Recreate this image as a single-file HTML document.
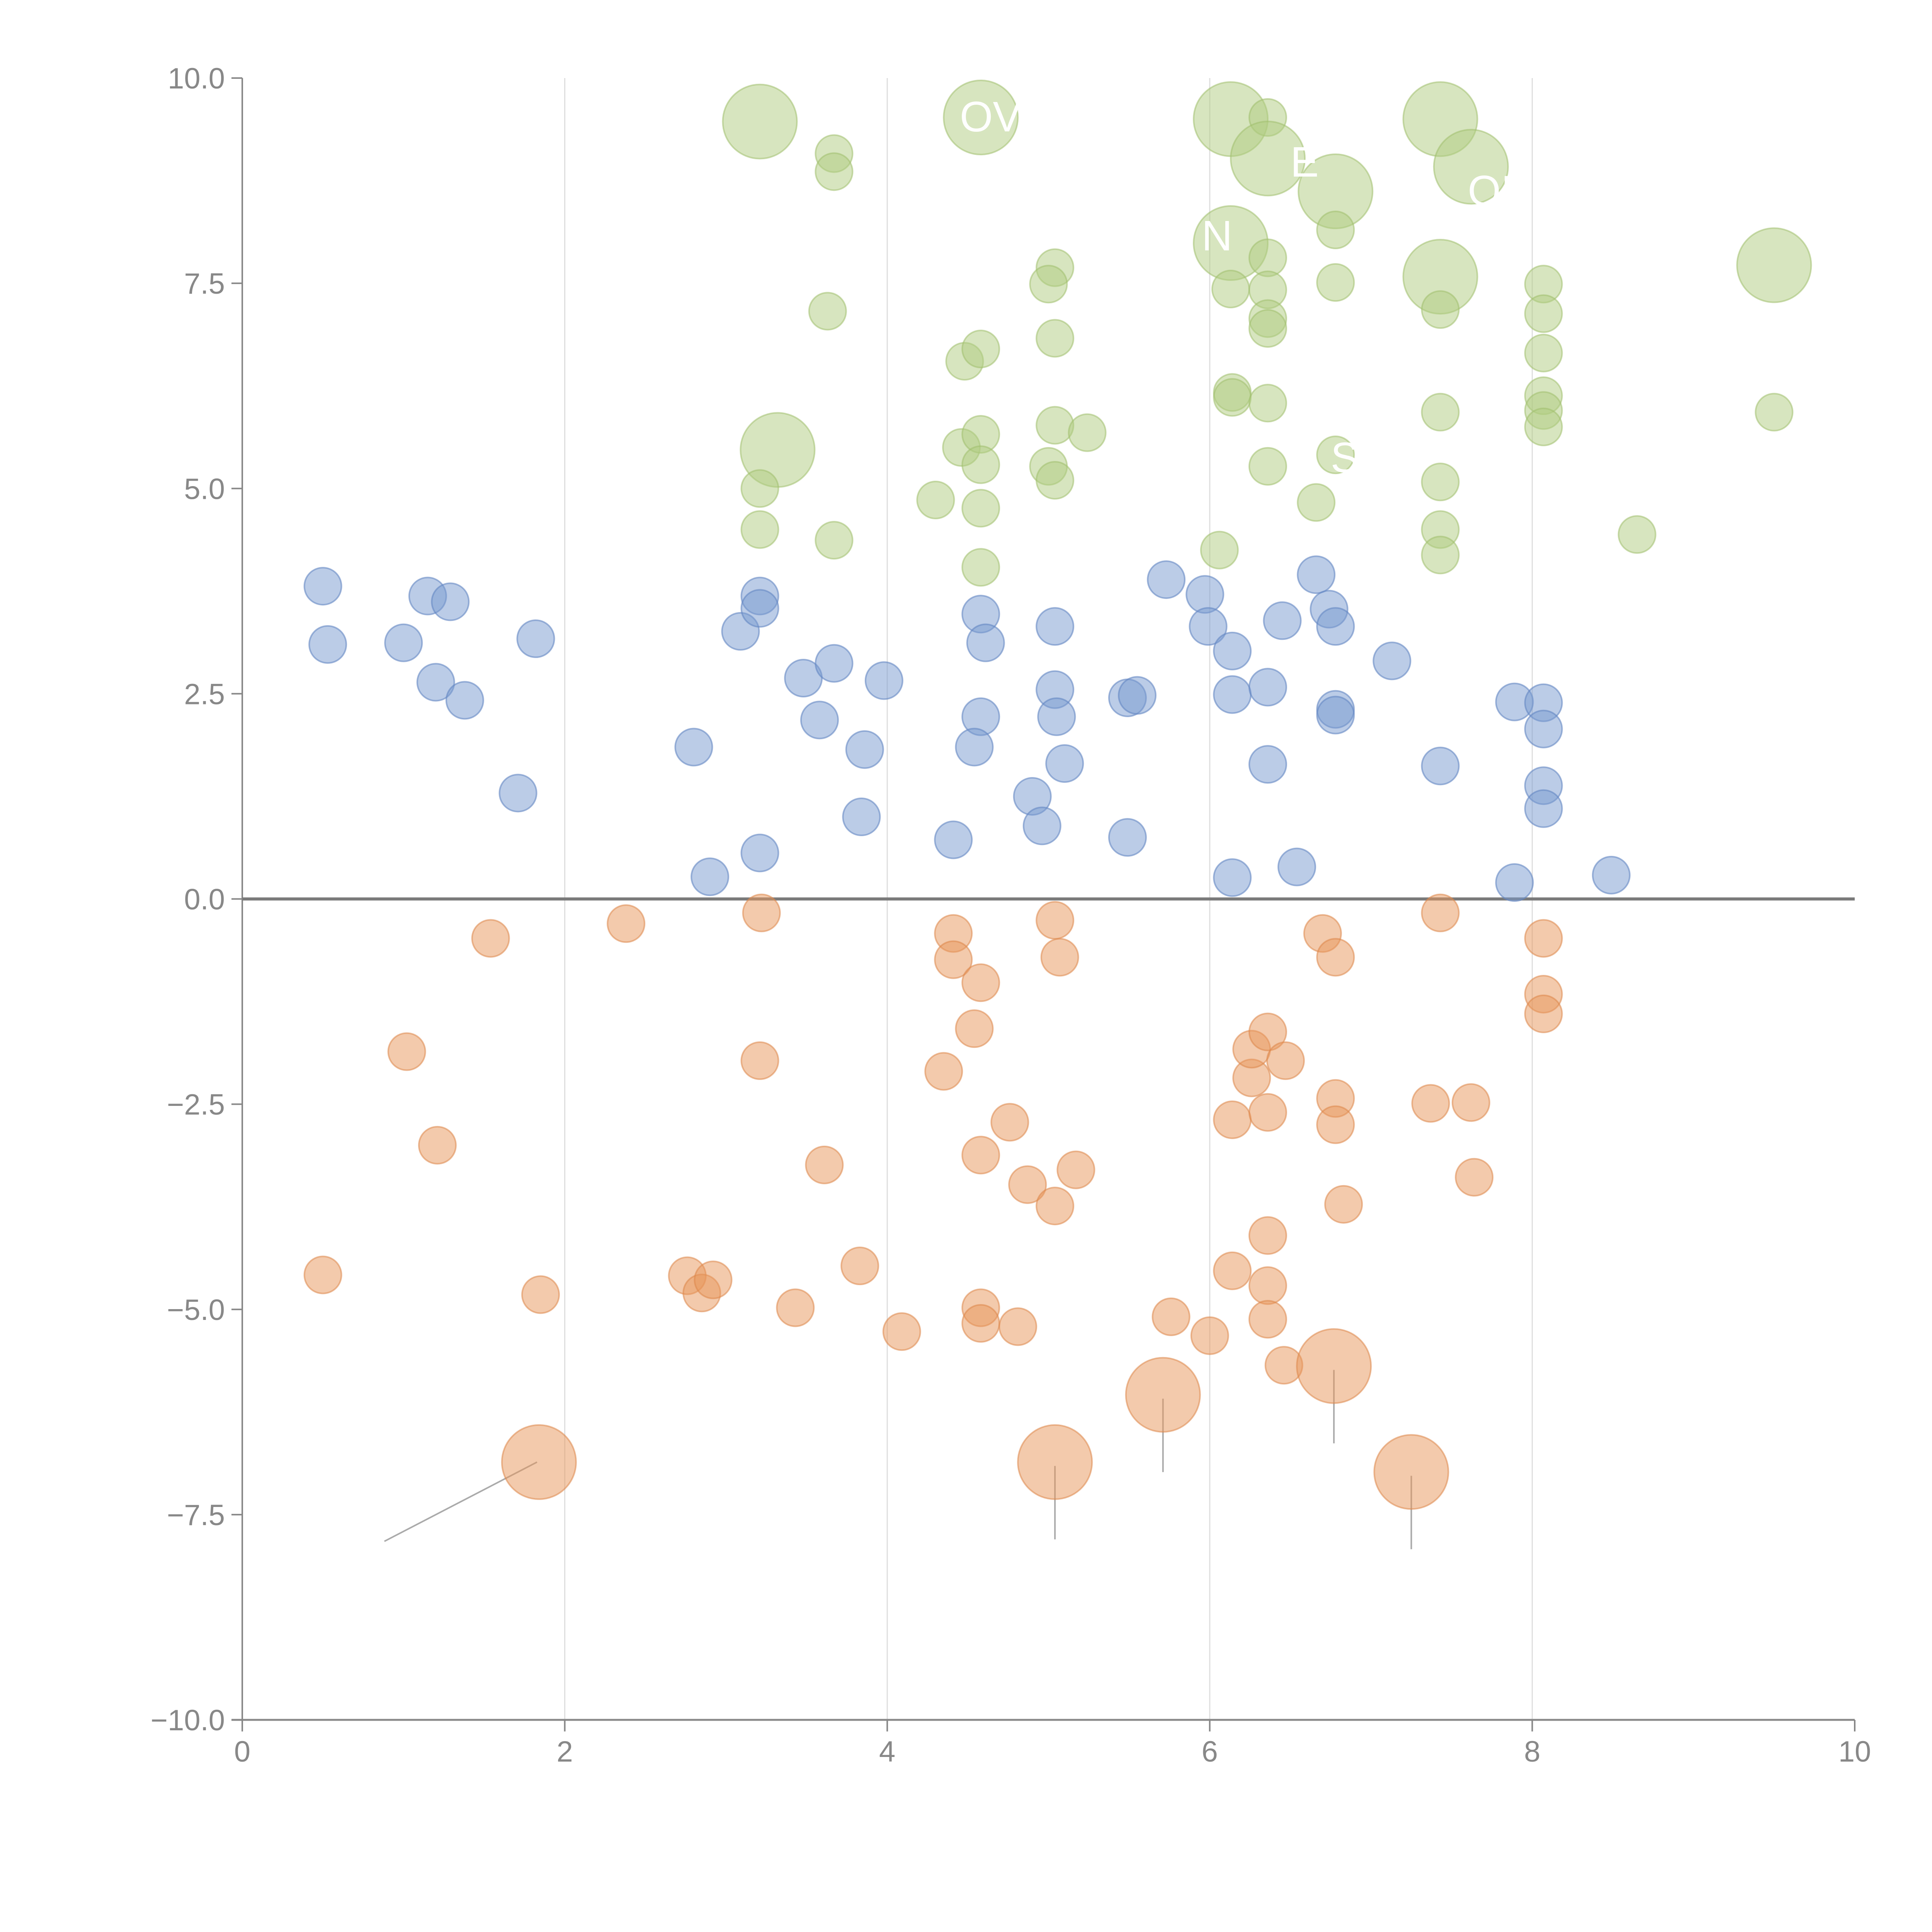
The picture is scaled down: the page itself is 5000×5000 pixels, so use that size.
<!DOCTYPE html>
<html><head><meta charset="utf-8"><style>
html,body{margin:0;padding:0;background:#fff;width:5000px;height:5000px;overflow:hidden}
svg{display:block}
text{font-family:"Liberation Sans",Arial,sans-serif}
</style></head><body>
<svg id="chart" width="5000" height="5000" viewBox="0 0 5000 5000" xmlns="http://www.w3.org/2000/svg">
<g id="grid"></g>
<g id="axes"></g>
<g id="leaders"></g>
<g id="marks"></g>
</svg>
<script>
const xTicks=[0,2,4,6,8,10];
const yTicks=[10,7.5,5,2.5,0,-2.5,-5,-7.5,-10];
const yTickLabels=["10.0","7.5","5.0","2.5","0.0","\u22122.5","\u22125.0","\u22127.5","\u221210.0"];
const blueX=[0.5,0.53,1.0,1.15,1.29,1.2,1.38,1.82,1.71,2.8,2.9,3.09,3.21,3.21,3.21,3.48,3.58,3.67,3.86,3.84,3.98,4.41,4.58,4.61,4.58,4.54,4.9,4.96,5.04,5.04,5.05,5.1,5.49,5.55,5.49,5.73,5.97,5.99,6.14,6.14,6.14,6.36,6.36,6.45,6.54,6.66,6.74,6.78,6.78,6.78,7.13,7.43,7.89,7.89,8.07,8.07,8.07,8.07,8.49];
const blueY=[3.81,3.1,3.12,3.69,3.62,2.64,2.42,3.17,1.29,1.85,0.27,3.26,3.69,3.54,0.56,2.69,2.18,2.87,1.82,1.0,2.66,0.72,3.47,3.12,2.22,1.85,1.25,0.89,3.32,2.55,2.22,1.65,2.45,2.48,0.75,3.89,3.71,3.32,3.02,2.49,0.26,2.58,1.64,3.39,0.39,3.95,3.53,3.32,2.31,2.24,2.9,1.62,2.4,0.2,2.39,2.07,1.38,1.1,0.29];
const orangeX=[0.5,1.02,1.21,1.54,1.85,1.84,2.38,2.76,2.85,2.92,3.21,3.22,3.43,3.61,3.83,4.09,4.35,4.41,4.41,4.54,4.58,4.58,4.58,4.58,4.76,4.81,4.87,5.04,5.07,5.04,5.17,5.04,5.71,5.76,6.0,6.14,6.14,6.26,6.26,6.36,6.47,6.36,6.36,6.36,6.36,6.46,6.7,6.78,6.78,6.78,6.83,6.77,7.25,7.37,7.43,7.62,7.64,8.07,8.07,8.07];
const orangeY=[-4.58,-1.86,-3.0,-0.48,-4.82,-6.86,-0.3,-4.59,-4.8,-4.64,-1.97,-0.17,-4.98,-3.24,-4.47,-5.27,-2.1,-0.42,-0.74,-1.58,-1.02,-3.12,-4.98,-5.17,-2.72,-5.21,-3.48,-0.26,-0.71,-3.74,-3.3,-6.86,-6.04,-5.09,-5.32,-2.69,-4.53,-2.18,-1.83,-1.62,-1.97,-2.6,-4.1,-4.71,-5.12,-5.68,-0.42,-0.71,-2.43,-2.75,-3.72,-5.69,-6.98,-2.49,-0.17,-2.48,-3.39,-0.48,-1.16,-1.4];
const orangeSize=[1,1,1,1,1,2,1,1,1,1,1,1,1,1,1,1,1,1,1,1,1,1,1,1,1,1,1,1,1,1,1,2,2,1,1,1,1,1,1,1,1,1,1,1,1,1,1,1,1,1,1,2,2,1,1,1,1,1,1,1];
const greenX=[3.21,3.67,3.67,3.63,3.32,3.21,3.21,3.67,4.3,4.46,4.48,4.58,4.58,4.58,4.58,4.58,4.58,5.04,5.0,5.04,5.04,5.0,5.04,5.24,6.06,6.13,6.13,6.13,6.36,6.36,6.36,6.36,6.36,6.36,6.14,6.14,6.36,6.36,6.66,6.78,6.78,6.78,6.78,7.43,7.62,7.43,7.43,7.43,7.43,7.43,7.43,8.07,8.07,8.07,8.07,8.07,8.07,8.65,9.5,9.5];
const greenY=[9.47,9.08,8.86,7.16,5.47,5.0,4.5,4.37,4.86,5.5,6.55,6.7,5.66,5.29,4.76,4.04,9.52,7.69,7.49,6.83,5.77,5.27,5.1,5.68,4.25,9.5,7.99,7.43,9.52,9.02,7.81,7.42,7.07,6.95,6.17,6.11,6.04,5.27,4.83,8.62,8.15,7.51,5.41,9.5,8.92,7.58,7.18,5.93,5.08,4.5,4.19,7.49,7.13,6.65,6.13,5.95,5.75,4.44,7.72,5.93];
const greenSize=[2,1,1,1,2,1,1,1,1,1,1,1,1,1,1,1,2,1,1,1,1,1,1,1,1,2,2,1,1,2,1,1,1,1,1,1,1,1,1,2,1,1,1,2,2,2,1,1,1,1,1,1,1,1,1,1,1,1,2,1];

const L=627,R=4800,T=202,B=4451;
const sx=v=>L+(v-0)/(10-0)*(R-L);
const sy=v=>B-(v+10)/20*(B-T);
const NS="http://www.w3.org/2000/svg";
function mk(tag,parent,attrs){const e=document.createElementNS(NS,tag);for(const k in attrs)e.setAttribute(k,attrs[k]);parent.appendChild(e);return e;}
const grid=document.getElementById('grid'),axes=document.getElementById('axes'),marks=document.getElementById('marks'),leaders=document.getElementById('leaders');

xTicks.forEach(t=>{
  if(t>0&&t<10){const g=mk('line',grid,{x1:sx(t),x2:sx(t),y1:T,y2:B,stroke:'#dedede','stroke-width':3});
  
  }
  const tk=mk('line',axes,{x1:sx(t),x2:sx(t),y1:B,y2:B+30,stroke:'#888','stroke-width':4});
  
  
  const tx=mk('text',axes,{x:sx(t),y:B+108,'text-anchor':'middle','font-size':76,fill:'#888'});
  tx.textContent=t;
  
  
});
yTicks.forEach((t,i)=>{
  const tk=mk('line',axes,{x1:L-28,x2:L,y1:sy(t),y2:sy(t),stroke:'#888','stroke-width':4});
  
  
  const tx=mk('text',axes,{x:L-45,y:sy(t)+27,'text-anchor':'end','font-size':76,fill:'#888'});
  tx.textContent=yTickLabels[i];
  
  
});
const ya=mk('line',axes,{x1:L,x2:L,y1:T,y2:B+30,stroke:'#888','stroke-width':4});


const xa=mk('line',axes,{x1:L-28,x2:R,y1:B,y2:B,stroke:'#888','stroke-width':5});


const zl=mk('line',axes,{x1:L,x2:R,y1:sy(0),y2:sy(0),stroke:'#7a7a7a','stroke-width':8});



function series(xs,ys,sizes,fill,stroke,name){
  xs.forEach((x,i)=>{
    const r=sizes&&sizes[i]===2?96:48;
    const c=mk('circle',marks,{cx:sx(x),cy:sy(ys[i]),r:r,fill:fill,stroke:stroke,'stroke-width':4});
    
    
  });
}
series(blueX,blueY,null,'rgba(120,153,208,0.5)','rgba(100,135,195,0.6)','blue-point');
series(orangeX,orangeY,orangeSize,'rgba(232,150,90,0.5)','rgba(220,135,75,0.55)','orange-point');
series(greenX,greenY,greenSize,'rgba(176,204,128,0.5)','rgba(160,192,110,0.55)','green-point');

orangeX.forEach((x,i)=>{
  if(orangeSize[i]!==2)return;
  const cx=sx(x),cy=sy(orangeY[i]);
  const isFirst=x<3;
  const ln=mk('line',leaders,isFirst?{x1:cx-5,y1:cy,x2:cx-400,y2:cy+205}:{x1:cx,y1:cy+10,x2:cx,y2:cy+200});
  ln.setAttribute('stroke','#aaa');ln.setAttribute('stroke-width',4);
  
  
});
const lbls=[["OV",4.45,9.35],["E",6.5,8.8],["OI",7.6,8.45],["N",5.95,7.9],["S",6.75,5.2]];
lbls.forEach(l=>{
  const t=mk('text',marks,{x:sx(l[1]),y:sy(l[2]),'font-size':110,fill:'#fff'});
  t.textContent=l[0];
  
  
});
</script>
</body></html>
